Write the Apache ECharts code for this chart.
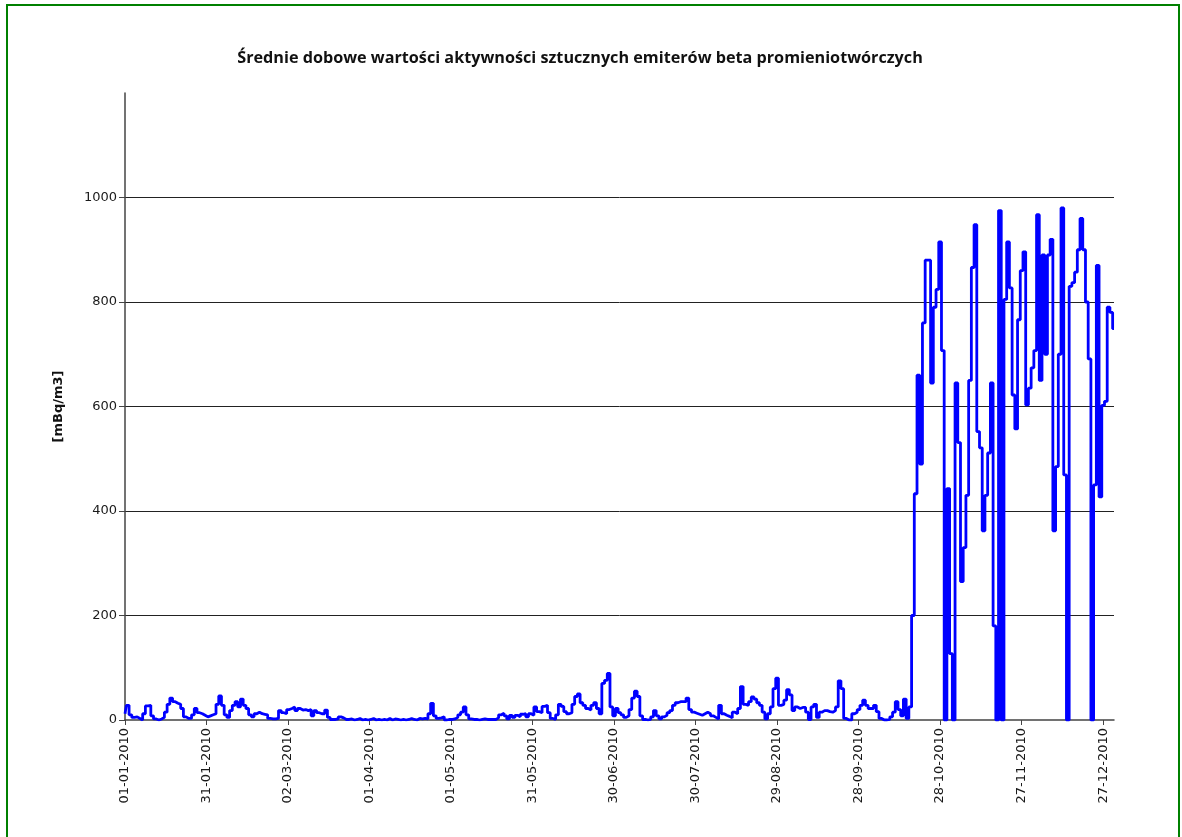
<!DOCTYPE html>
<html>
<head>
<meta charset="utf-8">
<script src="https://cdn.jsdelivr.net/npm/echarts@6/dist/echarts.min.js"></script>
<style>
  html, body { margin: 0; padding: 0; background: #fff; }
  #chart { width: 1182px; height: 837px; }
</style>
</head>
<body>
<div id="chart"></div>
<script>
// Daily mean activity of artificial beta emitters, 2010 [mBq/m3]
const year = 2010;
const dayCount = 365;
const labelStep = 30;

const jan = [12, 28, 10, 5, 6, 3, 0, 12, 27, 28, 8, 2, 0, 2, 5, 15, 30, 42, 35, 32, 30, 22, 6, 3, 3, 10, 22, 14, 12, 9, 6];
const feb = [8, 10, 12, 30, 46, 28, 10, 5, 18, 28, 35, 25, 40, 28, 22, 10, 6, 12, 15, 12, 11, 10, 3, 2, 2, 3, 18, 14];
const mar = [12, 20, 22, 25, 18, 22, 19, 20, 18, 20, 8, 18, 14, 12, 12, 19, 5, 1, 1, 2, 6, 4, 1, 1, 2, 0, 1, 3, 0, 1, 0];
const apr = [1, 3, 0, 1, 0, 1, 0, 3, 0, 2, 1, 0, 1, 0, 1, 3, 1, 0, 3, 2, 3, 2, 12, 32, 8, 3, 4, 6, 0, 1];
const may = [1, 2, 5, 10, 15, 25, 10, 2, 1, 1, 0, 1, 2, 1, 1, 1, 1, 4, 10, 13, 8, 2, 9, 5, 9, 6, 11, 12, 6, 12, 9];
const jun = [25, 16, 14, 26, 28, 14, 3, 1, 10, 30, 26, 16, 12, 14, 30, 45, 50, 33, 28, 22, 19, 28, 33, 22, 12, 70, 76, 89, 25, 8];
const jul = [22, 14, 10, 5, 8, 20, 42, 55, 45, 8, 1, 0, 1, 6, 18, 8, 2, 6, 9, 14, 18, 28, 33, 35, 35, 35, 42, 20, 15, 13, 11];
const aug = [9, 12, 15, 12, 8, 5, 2, 28, 12, 9, 7, 4, 15, 12, 22, 64, 30, 28, 35, 44, 40, 33, 28, 15, 2, 12, 25, 60, 80, 28, 30];
const sep = [38, 58, 48, 18, 25, 22, 24, 24, 15, 1, 25, 30, 5, 15, 18, 18, 16, 15, 18, 25, 75, 60, 3, 0, 0, 12, 15, 20, 28, 38];
const oct = [28, 22, 22, 28, 16, 3, 0, 0, 1, 6, 15, 35, 20, 8, 40, 3, 25, 200, 433, 660, 490, 760, 880, 880, 645, 790, 824, 915, 707, 0, 443];
const nov = [127, 0, 645, 531, 265, 330, 430, 650, 866, 948, 552, 521, 362, 430, 511, 645, 180, 0, 975, 0, 805, 915, 827, 622, 557, 766, 860, 896, 603, 635];
const dec = [674, 707, 967, 650, 890, 700, 890, 920, 362, 485, 700, 980, 469, 0, 830, 837, 857, 900, 960, 900, 800, 691, 0, 450, 870, 427, 602, 610, 790, 780, 749];

const yTicks = [0, 200, 400, 600, 800, 1000];
const yMax = 1200;
const titleText = 'Średnie dobowe wartości aktywności sztucznych emiterów beta promieniotwórczych';
const unitLabel = '[mBq/m3]';

const values = [].concat(jan, feb, mar, apr, may, jun, jul, aug, sep, oct, nov, dec);

const pad = n => (n < 10 ? '0' : '') + n;
const dates = [];
for (let i = 0; i < dayCount; i++) {
  const d = new Date(Date.UTC(year, 0, 1 + i));
  dates.push(pad(d.getUTCDate()) + '-' + pad(d.getUTCMonth() + 1) + '-' + d.getUTCFullYear());
}

const axisColor = '#444';
const textColor = '#1a1a1a';
const showEvery = idx => idx % labelStep === 0;

const chart = echarts.init(document.getElementById('chart'), null, { renderer: 'canvas' });
chart.setOption({
  animation: false,
  backgroundColor: '#fff',
  title: {
    text: titleText,
    left: 575,
    top: 45,
    textAlign: 'center',
    textStyle: { fontFamily: 'Open Sans', fontSize: 16.2, fontWeight: 'bold', color: '#111' }
  },
  graphic: [{
    type: 'rect',
    shape: { x: 7, y: 5, width: 1172, height: 860 },
    style: { fill: 'none', stroke: '#008000', lineWidth: 2 },
    silent: true
  }],
  grid: { left: 125, right: 68, top: 93, bottom: 117, containLabel: false },
  xAxis: {
    type: 'category',
    data: dates,
    boundaryGap: false,
    axisLine: { lineStyle: { color: axisColor, width: 1.5 } },
    axisTick: { show: true, interval: showEvery, length: 5, lineStyle: { color: axisColor } },
    axisLabel: {
      interval: showEvery,
      rotate: 90,
      margin: 8,
      color: textColor,
      fontFamily: 'DejaVu Sans',
      fontSize: 13
    },
    splitLine: { show: false }
  },
  yAxis: {
    type: 'value',
    min: 0,
    max: yMax,
    interval: 200,
    name: unitLabel,
    nameLocation: 'middle',
    nameRotate: 90,
    nameGap: 60,
    nameTextStyle: { fontFamily: 'DejaVu Sans', fontSize: 13, fontWeight: 'bold', color: '#111' },
    axisLine: { show: true, lineStyle: { color: axisColor, width: 1.5 } },
    axisTick: { show: true, inside: false, length: 6, customValues: yTicks, lineStyle: { color: axisColor } },
    axisLabel: {
      customValues: yTicks,
      formatter: v => String(v),
      margin: 8,
      color: textColor,
      fontFamily: 'DejaVu Sans',
      fontSize: 13
    },
    splitLine: { show: true, showMinLine: false, showMaxLine: true, lineStyle: { color: '#222', width: 1 } }
  },
  series: [{
    type: 'line',
    data: values,
    step: 'middle',
    symbol: 'none',
    lineStyle: { color: '#0000ff', width: 2.8 },
    z: 3
  }]
});
</script>
</body>
</html>
